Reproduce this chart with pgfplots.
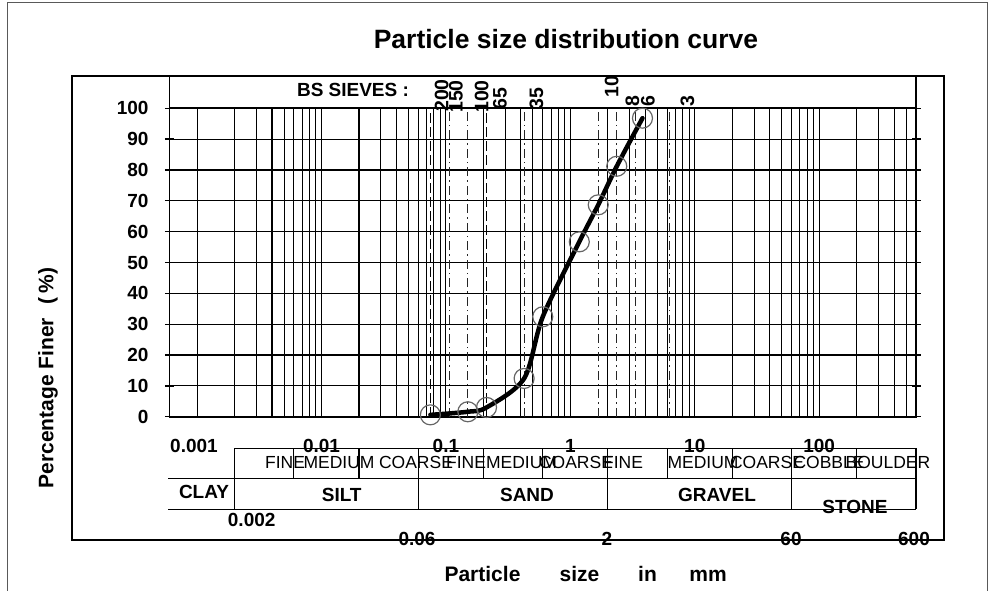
\documentclass[border=0pt]{standalone}
\usepackage{pgfplots}
\pgfplotsset{compat=1.18}
\usepackage{fontspec}
\setmainfont{Liberation Sans}

\newcommand\bfl{\fontsize{19}{19}\selectfont\bfseries}
\newcommand\rgl{\fontsize{17.5}{17.5}\selectfont}
\newcommand\sievefont{\fontsize{19.5}{19.5}\selectfont\bfseries}

\begin{document}
\begin{tikzpicture}
\useasboundingbox (0pt,0pt) rectangle (993pt,-591pt);

\begin{axis}[
  at={(169.5pt,-416.7pt)}, anchor=south west,
  scale only axis, width=746.5pt, height=308.4pt,
  xmode=log, xmin=0.0006, xmax=600, ymin=0, ymax=100,
  clip=false,
  axis line style={black, line width=1.6pt},
  xtick={0.001,0.002,0.003,0.004,0.005,0.006,0.007,0.008,0.009,
         0.01,0.02,0.03,0.04,0.05,0.06,0.07,0.08,0.09,
         0.1,0.2,0.3,0.4,0.5,0.6,0.7,0.8,0.9,
         1,2,3,4,5,6,7,8,9,
         10,20,30,40,50,60,70,80,90,
         100,200,300,400,500},
  xticklabels={}, xticklabel style={opacity=0}, xtick style={draw=none},
  minor x tick num=0,
  xmajorgrids, ymajorgrids,
  grid style={black, line width=1.1pt},
  ytick={0,10,...,100},
  ytick pos=both,
  ytick style={black, line width=1.3pt},
  tick align=center, major tick length=9pt,
  /pgf/number format/assume math mode=true,
  yticklabel style={font=\bfl, xshift=-13pt},
]
% BS sieve apertures (mm)
\foreach \s in {0.075,0.212}{
  \edef\tmp{\noexpand\draw[black, line width=1.4pt, dash pattern=on 10pt off 4pt]
    (axis cs:\s,0) -- (axis cs:\s,100);}\tmp
}
\foreach \s in {0.106,0.15,0.425,1.676,2.36,3.35,6.3}{
  \edef\tmp{\noexpand\draw[black!85, line width=0.9pt, dash pattern=on 9pt off 4pt on 1.5pt off 4pt]
    (axis cs:\s,0) -- (axis cs:\s,100);}\tmp
}

% sieve analysis results
\addplot[only marks, mark=o, mark size=10pt, draw=black!60, mark options={line width=1.2pt}]
  coordinates {(0.075,0.6) (0.15,1.6) (0.212,3.0) (0.425,12.4) (0.6,32.4)
               (1.18,56.7) (1.676,68.7) (2.36,81.2) (3.8,96.8)};
\addplot[black, line width=4.5pt, smooth, tension=0.5, line join=round, line cap=round]
  coordinates {(0.075,0.6) (0.15,1.6) (0.212,3.0) (0.425,12.4) (0.6,32.4)
               (1.18,56.7) (1.676,68.7) (2.36,81.2) (3.8,96.8)};
\end{axis}

\begin{scope}[x=1pt,y=-1pt]
% frames
\draw[line width=1pt, black!65] (7,591) -- (7,3) -- (987,3) -- (987,591);
\draw[line width=1.1pt] (72,76) rectangle (944,540);
\draw[line width=1.6pt] (169.5,76) -- (169.5,108.3);
\draw[line width=1.6pt] (916,76) -- (916,108.3);

% title and axis titles
\node[anchor=base, font=\fontsize{26.5}{26.5}\selectfont\bfseries] at (566,49) {Particle size distribution curve};
\node[anchor=west, rotate=90, font=\fontsize{21}{21}\selectfont\bfseries] at (48,492) {Percentage Finer\hspace{14pt}(\hspace{4pt}\%)};
\begin{scope}[every node/.style={anchor=base, font=\fontsize{21}{21}\selectfont\bfseries}]
\node at (482.5,581) {Particle};
\node at (579.5,581) {size};
\node at (647.5,581) {in};
\node at (708,581) {mm};
\end{scope}

% sieve numbers
\node[anchor=base, font=\bfl] at (353,97) {BS SIEVES :};
\begin{scope}[every node/.style={anchor=west, rotate=90, font=\sievefont, inner sep=0pt}]
\node at (441.7,112) {200};
\node at (455.8,113) {150};
\node at (481.7,113) {100};
\node at (500,110) {65};
\node at (536.3,110) {35};
\node at (611.7,98) {10};
\node at (632.5,106.5) {8};
\node at (648,106.5) {6};
\node at (687.5,106.5) {3};
\end{scope}

% particle size scale
\begin{scope}[every node/.style={anchor=base, font=\bfl}]
\node at (194,452) {0.001};
\node at (321.5,452) {0.01};
\node at (445.9,452) {0.1};
\node at (570.4,452) {1};
\node at (694.8,452) {10};
\node at (819.2,452) {100};
\node at (251.7,526) {0.002};
\node at (417,545) {0.06};
\node at (607,545) {2};
\node at (791,545) {60};
\node at (914,545) {600};
\end{scope}

% soil classification table
\draw[line width=1.1pt] (234.6,448.3) -- (916,448.3);
\draw[line width=1.1pt] (168,478.3) -- (916,478.3);
\draw[line width=1.1pt] (168,509.3) -- (916,509.3);
\foreach \x in {293.9,359.0,483.4,542.8,667.2,732.4,856.8}
  \draw[line width=1.1pt] (\x,448.3) -- (\x,478.3);
\foreach \x in {234.6,418.3,607.9,791.7,916}
  \draw[line width=1.1pt] (\x,448.3) -- (\x,509.3);

\begin{scope}[every node/.style={anchor=base, font=\rgl}]
\node at (285,468) {FINE};
\node at (339,468) {MEDIUM};
\node at (416,468) {COARSE};
\node at (466,468) {FINE};
\node at (521.5,468) {MEDIUM};
\node at (576,468) {COARSE};
\node at (623,468) {FINE};
\node at (703,468) {MEDIUM};
\node at (767,468) {COARSE};
\node at (829,468) {COBBLE};
\node at (888,468) {BOULDER};
\end{scope}
\begin{scope}[every node/.style={anchor=base, font=\bfl}]
\node at (204,498) {CLAY};
\node at (341.7,501) {SILT};
\node at (527,501) {SAND};
\node at (717,501) {GRAVEL};
\node at (855,513.5) {STONE};
\end{scope}
\end{scope}
\end{tikzpicture}
\end{document}
